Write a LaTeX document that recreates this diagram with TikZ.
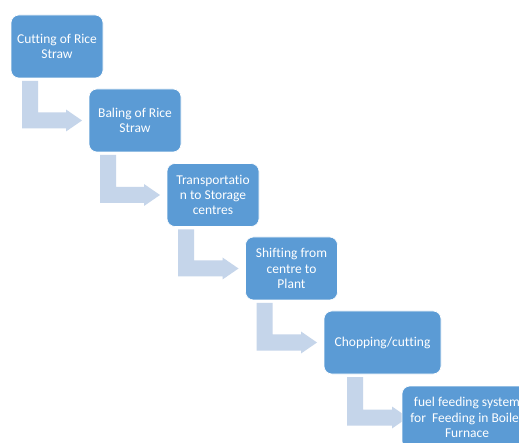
\documentclass[tikz,border=0pt]{standalone}
\usepackage{fontspec}
\setmainfont{Carlito}[Ligatures=NoCommon]
\usetikzlibrary{calc}
\definecolor{boxblue}{HTML}{5B9BD5}
\definecolor{arrblue}{HTML}{C5D5EA}
\tikzset{
  stepbox/.style={rectangle, rounded corners=8pt, fill=boxblue, draw=white, line width=0.6pt,
    outer sep=0pt, inner sep=2pt, minimum width=92pt, minimum height=63pt,
    text=white, align=center, font=\fontsize{13.5}{15.2}\selectfont},
  ghostbox/.style={stepbox, draw=none, fill=none},
  arrowfill/.style={fill=arrblue}
}
% #1 source, #2 target, #3 x offset of bar, #4 head base gap, #5 tip gap
\newcommand\bentarrow[5]{%
  \fill[arrowfill] let \p1=(#1.south west), \p2=(#2.west) in
  (\x1+#3, \y1-3pt) -- (\x1+#3+16pt, \y1-3pt) -- (\x1+#3+16pt, \y2+8pt)
  -- (\x2-#4, \y2+8pt) -- (\x2-#4, \y2+11pt) -- (\x2-#5, \y2)
  -- (\x2-#4, \y2-11pt) -- (\x2-#4, \y2-8pt) -- (\x1+#3, \y2-8pt) -- cycle;}
\begin{document}
\begin{tikzpicture}[x=1pt,y=-1pt]
\useasboundingbox (0,0) rectangle (519,443);
\clip (0,0) rectangle (519,443);
\fill[white] (0,0) rectangle (519,443);
\path
  (57,46.5)    coordinate (c1)
  (135,120.5)  coordinate (c2)
  (213,195)    coordinate (c3)
  (291.5,268.5) coordinate (c4)
  (382.5,342.5) coordinate (c5)
  (467,417.5)  coordinate (c6);
\node[ghostbox] (b1) at (c1) {};
\node[ghostbox] (b2) at (c2) {};
\node[ghostbox] (b3) at (c3) {};
\node[ghostbox] (b4) at (c4) {};
\node[ghostbox, minimum width=117pt] (b5) at (c5) {};
\node[ghostbox, minimum width=130pt] (b6) at (c6) {};
\bentarrow{b1}{b2}{11pt}{23pt}{7pt}
\bentarrow{b2}{b3}{11pt}{23pt}{7pt}
\bentarrow{b3}{b4}{11pt}{23pt}{7pt}
\bentarrow{b4}{b5}{11pt}{23pt}{7pt}
\bentarrow{b5}{b6}{23pt}{10pt}{-6pt}
\node[stepbox] (n1) at (c1) {Cutting of Rice\\Straw};
\node[stepbox] (n2) at (c2) {Baling of Rice\\Straw};
\node[stepbox] (n3) at (c3) {Transportatio\\n to Storage\\centres};
\node[stepbox] (n4) at (c4) {Shifting from\\centre to\\Plant};
\node[stepbox, minimum width=117pt] (n5) at (c5) {Chopping/cutting};
\node[stepbox, minimum width=130pt] (n6) at (c6) {fuel feeding system\\for~ Feeding in Boiler\\Furnace};
\end{tikzpicture}
\end{document}
